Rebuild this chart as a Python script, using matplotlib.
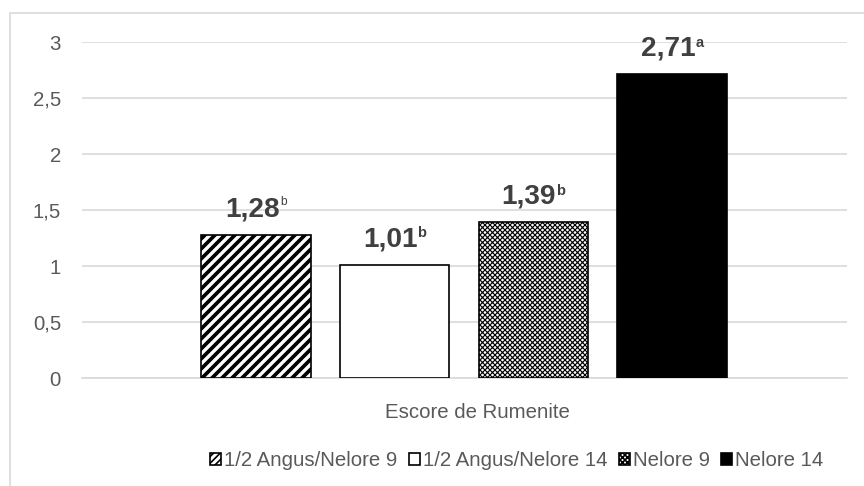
import matplotlib
matplotlib.use("Agg")
import matplotlib.pyplot as plt
from matplotlib.patches import Patch, Rectangle
from matplotlib.offsetbox import TextArea, HPacker, AnnotationBbox

plt.rcParams['font.family'] = ['Liberation Sans', 'DejaVu Sans']

# data
groups = ['1/2 Angus/Nelore 9', '1/2 Angus/Nelore 14', 'Nelore 9', 'Nelore 14']
values = [1.28, 1.01, 1.39, 2.71]
value_labels = ['1,28', '1,01', '1,39', '2,71']
letters = ['b', 'b', 'b', 'a']
category = 'Escore de Rumenite'
yticks = [0, 0.5, 1, 1.5, 2, 2.5, 3]
ytick_labels = ['0', '0,5', '1', '1,5', '2', '2,5', '3']

# styles
faces = ['white', 'white', 'white', 'black']
hatches = ['////', None, 'xxxxxxxx', None]
legend_hatches = ['//////', None, 'xxxxxxxx', None]
hatch_lw = [2.2, 1.0, 0.7, 1.0]
letter_bold = [False, True, True, True]

fig = plt.figure(figsize=(7.2, 4.05), dpi=120)
ax = fig.add_axes([82/864, 108/486, 765/864, 336/486])

# light frame around the chart area
fig.patches.append(Rectangle((10/864, -0.1), 1.0, (486-13)/486 + 0.1,
                             transform=fig.transFigure, fill=False,
                             edgecolor='#d9d9d9', linewidth=1.0))

x = list(range(len(values)))
handles = []
for i, v in enumerate(values):
    plt.rcParams['hatch.linewidth'] = hatch_lw[i]
    bar = ax.bar(x[i], v, width=0.79, color=faces[i], edgecolor='black',
                 linewidth=1.0, hatch=hatches[i], zorder=3)[0]
    try:
        bar.set_hatch_linewidth(hatch_lw[i])
    except AttributeError:
        pass
    h = Patch(facecolor=faces[i], edgecolor='black', hatch=legend_hatches[i],
              linewidth=1.0, label=groups[i])
    try:
        h.set_hatch_linewidth(hatch_lw[i] * 0.8)
    except AttributeError:
        pass
    handles.append(h)

    main = TextArea(value_labels[i], textprops=dict(fontsize=16.8, fontweight='bold',
                                                    color='#404040'))
    sup = TextArea(letters[i], textprops=dict(fontsize=8.8 if letter_bold[i] else 7.2,
                                              fontweight='bold' if letter_bold[i] else 'normal',
                                              color='#404040'))
    box = HPacker(children=[main, sup], align='top', pad=0, sep=0)
    ab = AnnotationBbox(box, (x[i], v), xybox=(0, 7.5), xycoords='data',
                        boxcoords='offset points', box_alignment=(0.5, 0),
                        frameon=False, annotation_clip=False, zorder=4)
    ax.add_artist(ab)

ax.set_xlim(-1.254, 4.261)
ax.set_ylim(0, 3)
ax.set_yticks(yticks)
ax.set_yticklabels(ytick_labels)
ax.set_xticks([1.6])
ax.set_xticklabels([category])
ax.grid(axis='y', color='#d9d9d9', linewidth=1.0, zorder=0)
for s in ['top', 'right', 'left']:
    ax.spines[s].set_visible(False)
ax.spines['bottom'].set_color('#d9d9d9')
ax.spines['bottom'].set_linewidth(1.0)
ax.tick_params(axis='both', length=0, labelsize=12.2, labelcolor='#595959')
ax.tick_params(axis='y', pad=12.6)
ax.tick_params(axis='x', pad=15)

fig.legend(handles=handles, loc='center', bbox_to_anchor=(517/864, 25/486),
           ncol=4, frameon=False, fontsize=12.2, labelcolor='#595959',
           handlelength=0.55, handleheight=0.55, handletextpad=0.15,
           columnspacing=0.55, borderaxespad=0)

fig.savefig('out.png', dpi=120)
